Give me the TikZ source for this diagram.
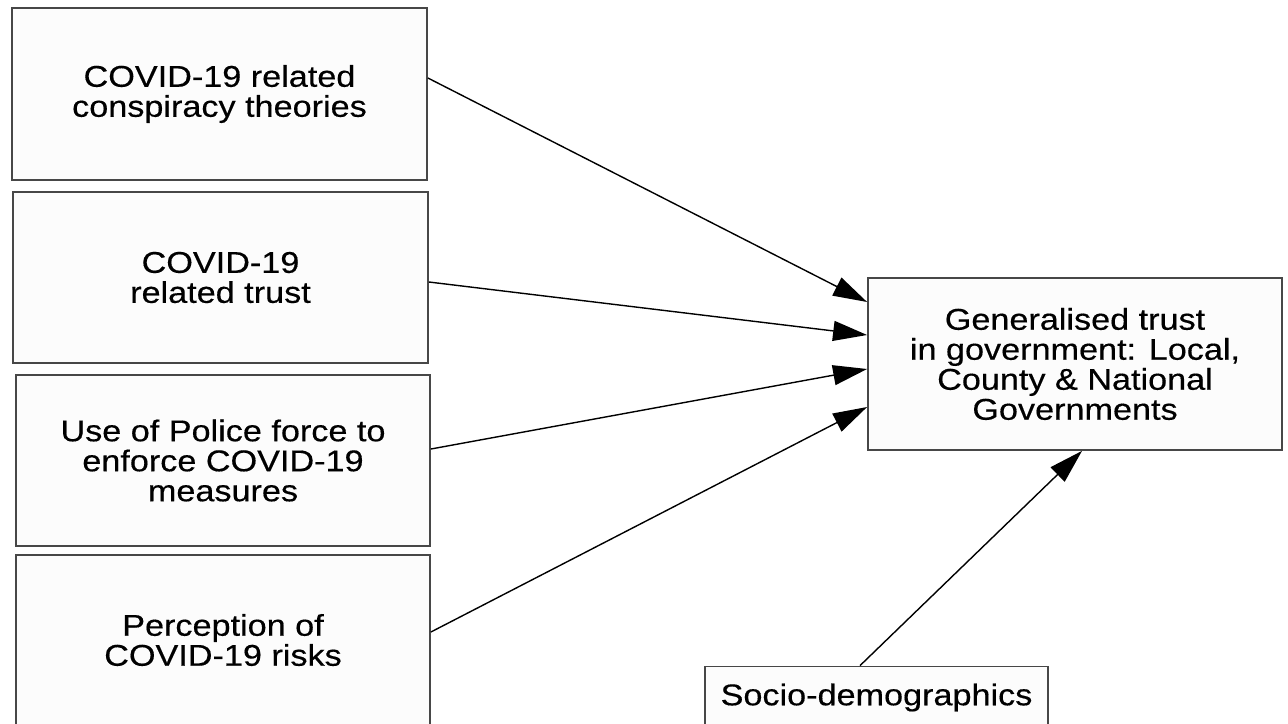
\documentclass[tikz,border=0pt]{standalone}
\usepackage{fontspec}
\setmainfont[FakeStretch=1.14,FakeBold=0.4]{Liberation Sans}
\usetikzlibrary{arrows.meta}
\begin{document}
\begin{tikzpicture}[x=0.5pt,y=-0.5pt,
  box/.style={draw=black!72, line width=0.9pt, fill=black!1, align=center,
    font=\fontsize{15pt}{15pt}\selectfont, inner sep=0pt},
  conn/.style={line width=0.7pt, -{Triangle[length=17pt,width=10pt]}}]
\useasboundingbox (0,0) rectangle (1288,723);
\fill[white] (0,0) rectangle (1288,723);
\node[box, minimum width=207.5pt, minimum height=86pt] (b1) at (219.5,94) {COVID-19 related\\conspiracy theories};
\node[box, minimum width=207.5pt, minimum height=85.5pt] (b2) at (220.5,277.5) {COVID-19\\related trust};
\node[box, minimum width=207pt, minimum height=85.5pt] (b3) at (223,460.5) {Use of Police force to\\enforce COVID-19\\measures};
\node[box, minimum width=207pt, minimum height=85pt] (b4) at (223,640) {Perception of\\COVID-19 risks};
\node[box, minimum width=207pt, minimum height=86pt] (t) at (1075,364) {Generalised trust\\in government: Local,\\County \& National\\Governments};
\node[box, minimum width=171.5pt, minimum height=31pt] (s) at (876.5,697.5) {Socio-demographics};
\draw[conn] ([yshift=8pt]b1.east) -- ([yshift=31pt]t.west);
\draw[conn] ([yshift=-2.25pt]b2.east) -- ([yshift=14.5pt]t.west);
\draw[conn] ([yshift=5.75pt]b3.east) -- ([yshift=-2.5pt]t.west);
\draw[conn] ([yshift=4pt]b4.east) -- ([yshift=-21.5pt]t.west);
\draw[conn] ([xshift=-8.25pt]s.north) -- ([xshift=3.5pt]t.south);
\end{tikzpicture}
\end{document}
